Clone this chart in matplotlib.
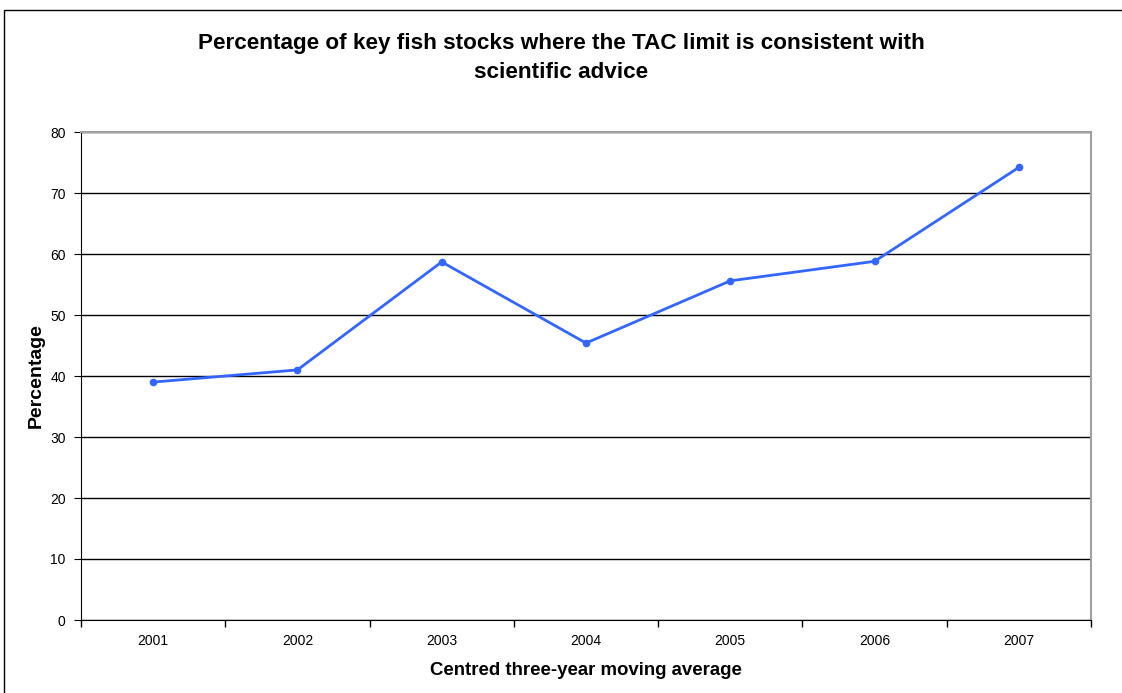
import matplotlib
matplotlib.use('Agg')
import matplotlib.pyplot as plt
from matplotlib.patches import Rectangle
import numpy as np

# Данные
years = ['2001', '2002', '2003', '2004', '2005', '2006', '2007']
percentage = [39.0, 41.0, 58.7, 45.4, 55.6, 58.8, 74.2]

plt.rcParams['font.family'] = ['Liberation Sans', 'DejaVu Sans']

W, H = 1122, 693
fig = plt.figure(figsize=(W / 100, H / 100), dpi=100)
fig.patch.set_facecolor('white')

# рамка области диаграммы
fig.patches.append(Rectangle((4 / W, -0.05), 1.2, (H - 10) / H + 0.05,
                             transform=fig.transFigure, fill=False,
                             edgecolor='black', linewidth=1.0))

ax = fig.add_axes([81 / W, 1 - 620 / H, (1091 - 81) / W, (620 - 132) / H])
x = np.arange(len(years))
ax.plot(x, percentage, color='#3366ff', linewidth=2.0, marker='o',
        markersize=5.5, markeredgewidth=0)

ax.set_xlim(-0.5, len(years) - 0.5)
ax.set_ylim(0, 80)
ax.set_yticks(range(0, 81, 10))
ax.yaxis.grid(True, color='black', linewidth=1.0)
ax.set_axisbelow(True)

ax.set_xticks(x)
ax.set_xticklabels(years, fontsize=10)
ax.set_xticks(np.arange(-0.5, len(years), 1.0), minor=True)
ax.tick_params(axis='x', which='major', length=0, pad=10)
ax.tick_params(axis='x', which='minor', length=5, direction='out', width=1)
ax.tick_params(axis='y', length=5, direction='out', labelsize=10, pad=6)

for side in ['top', 'right']:
    ax.spines[side].set_color('#a0a0a0')
    ax.spines[side].set_linewidth(1.5)
ax.spines['left'].set_color('black')
ax.spines['bottom'].set_color('black')

ax.set_xlabel('Centred three-year moving average', fontsize=13.4, fontweight='bold', labelpad=10)
ax.set_ylabel('Percentage', fontsize=14, fontweight='bold', labelpad=4)

fig.text(0.5, 1 - 58 / H, 'Percentage of key fish stocks where the TAC limit is consistent with\nscientific advice',
         ha='center', va='center', fontsize=16.2, fontweight='bold', linespacing=1.45)

fig.savefig('out.png', dpi=100)
